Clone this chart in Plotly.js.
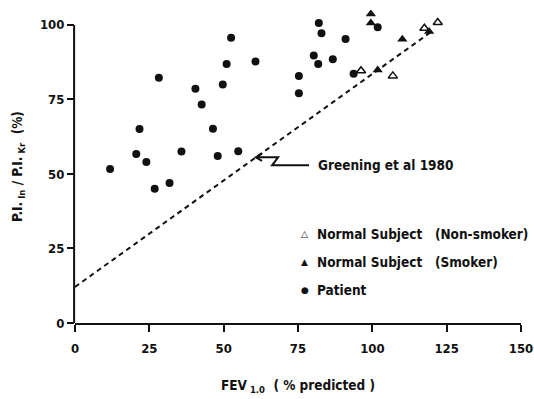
<!DOCTYPE html>
<html>
<head>
<meta charset="utf-8">
<script src="https://cdn.plot.ly/plotly-3.0.1.min.js"></script>
<style>html,body{margin:0;padding:0;background:#fff;}#chart{width:534px;height:399px;}</style>
</head>
<body>
<div id="chart"></div>
<script>
// Patients
const patientX = [11.8,20.6,21.7,24.0,26.8,28.2,31.8,35.8,40.5,42.6,46.4,48.0,49.7,51.0,52.5,54.9,60.7,75.3,75.3,80.3,81.8,82.0,82.9,86.7,91.0,93.7,101.8];
const patientY = [51.7,56.7,65.1,54.0,45.0,82.3,47.0,57.5,78.6,73.3,65.2,56.0,80.0,86.9,95.7,57.6,87.7,82.9,77.1,89.7,86.9,100.6,97.2,88.5,95.3,83.6,99.2];
// Normal subjects, smokers
const smokerX = [99.5,99.5,101.8,110.1,119.1];
const smokerY = [103.7,100.6,84.9,95.2,97.8];
// Normal subjects, non-smokers
const nonSmokerX = [96.2,106.9,117.5,122.0];
const nonSmokerY = [84.6,82.9,98.9,100.8];
// Greening et al 1980 regression line
const greeningX = [0,119.4];
const greeningY = [12.1,97.4];
// Axis ticks
const xTicks = [0,25,50,75,100,125,150];
const yTicks = [0,25,50,75,100];

const FONT = "Liberation Sans Narrow, DejaVu Sans Condensed, Arial Narrow, sans-serif";
const INK = "#111";
const FS = 13.5;
const TFS = 13;

const traces = [
  {x: greeningX, y: greeningY, mode: "lines", name: "Greening et al 1980",
   line: {color: INK, width: 2, dash: "5px,4px"}, showlegend: false},
  {x: patientX, y: patientY, mode: "markers", name: "Patient",
   marker: {symbol: "circle", size: 8, color: INK}, showlegend: false},
  {x: smokerX, y: smokerY, mode: "markers", name: "Normal Subject (Smoker)",
   marker: {symbol: "triangle-up", size: 9, color: INK}, showlegend: false},
  {x: nonSmokerX, y: nonSmokerY, mode: "markers", name: "Normal Subject (Non-smoker)",
   marker: {symbol: "triangle-up-open", size: 8, color: INK, line: {color: INK, width: 1.5}}, showlegend: false}
];

const legendRows = [
  {sym: "△", label: "Normal Subject&nbsp;&nbsp;&nbsp;(Non-smoker)", y: 29.9},
  {sym: "▲", label: "Normal Subject&nbsp;&nbsp;&nbsp;(Smoker)", y: 20.5},
  {sym: "●", label: "Patient", y: 11.1}
];

const annotations = [
  {x: 80.9, y: 52.9, xref: "x", yref: "y", text: "Greening et al 1980", showarrow: false,
   xanchor: "left", yanchor: "middle", font: {family: FONT, size: FS, color: INK, weight: "bold"}}
];
legendRows.forEach(r => {
  annotations.push({x: 77.3, y: r.y, xref: "x", yref: "y", text: r.sym, showarrow: false,
    xanchor: "center", yanchor: "middle", font: {family: "DejaVu Sans", size: 9, color: INK}});
  annotations.push({x: 80.6, y: r.y, xref: "x", yref: "y", text: r.label, showarrow: false,
    xanchor: "left", yanchor: "middle", font: {family: FONT, size: FS, color: INK, weight: "bold"}});
});

const layout = {
  width: 534, height: 399,
  margin: {l: 75, r: 13, t: 10, b: 76},
  paper_bgcolor: "#fff", plot_bgcolor: "#fff",
  showlegend: false,
  font: {family: FONT, size: FS, color: INK, weight: "bold"},
  xaxis: {
    range: [0,150], tickvals: xTicks, ticktext: xTicks.map(String),
    showgrid: false, zeroline: false, showline: true, linecolor: INK, linewidth: 2,
    ticks: "outside", ticklen: 7, tickwidth: 2, tickcolor: INK, ticklabelstandoff: 5,
    ticklabeloverflow: "allow",
    tickfont: {family: FONT, size: TFS, color: INK, weight: "bold"},
    title: {text: "FEV<sub> 1.0</sub>&nbsp;&nbsp;( % predicted )", standoff: 26,
      font: {family: FONT, size: FS, color: INK, weight: "bold"}}
  },
  yaxis: {
    range: [0,105], tickvals: yTicks, ticktext: yTicks.map(String),
    showgrid: false, zeroline: false, showline: false,
    ticks: "outside", ticklen: 7, tickwidth: 2, tickcolor: INK,
    tickfont: {family: FONT, size: TFS, color: INK, weight: "bold"},
    title: {text: "P.I.<sub> In</sub> / P.I.<sub> Kr</sub>&nbsp;&nbsp;(%)", standoff: 14,
      font: {family: FONT, size: FS, color: INK, weight: "bold"}}
  },
  shapes: [
    {type: "line", xref: "paper", yref: "y", x0: -0.002, x1: -0.002, y0: 0, y1: 100,
     line: {color: INK, width: 2}},
    {type: "path", xref: "x", yref: "y",
     path: "M60.8,55.6 L68.3,55.6 L66.3,52.9 L78.7,52.9 M62.9,56.8 L60.8,55.6 L62.9,54.4",
     line: {color: INK, width: 2}}
  ],
  annotations: annotations
};

Plotly.newPlot("chart", traces, layout, {displayModeBar: false, staticPlot: true});
</script>
</body>
</html>
